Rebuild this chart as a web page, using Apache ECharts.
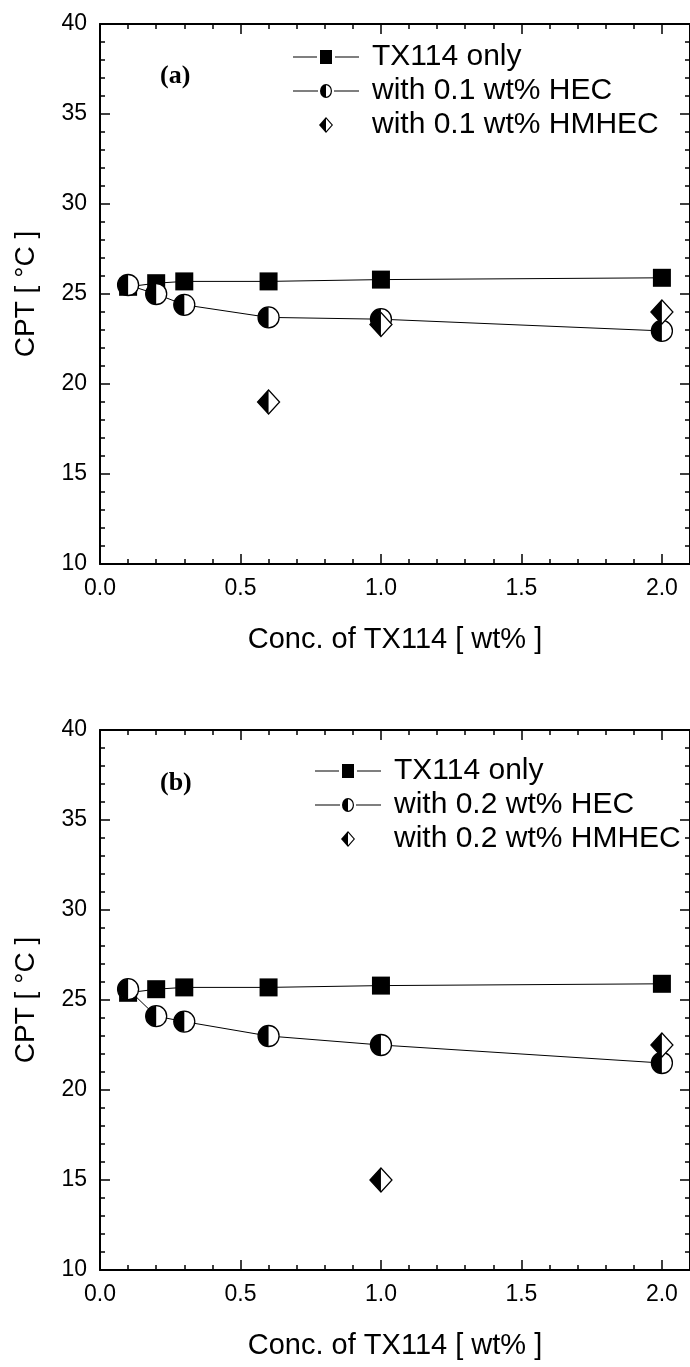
<!DOCTYPE html>
<html>
<head>
<meta charset="utf-8">
<script src="https://cdn.jsdelivr.net/npm/echarts@6/dist/echarts.min.js"></script>
<style>
html,body{margin:0;padding:0;background:#fff;}
#chart{width:690px;height:1367px;}
</style>
</head>
<body>
<div id="chart"></div>
<script>
// ---- data ----
const conc = [0.1, 0.2, 0.3, 0.6, 1.0, 2.0];
const tx114A = [25.4, 25.6, 25.7, 25.7, 25.8, 25.9];
const hecA = [25.5, 25.0, 24.4, 23.7, 23.6, 22.95];
const hmhecConcA = [0.6, 1.0, 2.0];
const hmhecA = [19.0, 23.3, 24.0];

const tx114B = [25.4, 25.6, 25.7, 25.7, 25.8, 25.9];
const hecB = [25.6, 24.1, 23.8, 23.0, 22.5, 21.5];
const hmhecConcB = [1.0, 2.0];
const hmhecB = [15.0, 22.5];

const xTicks = [0, 0.5, 1.0, 1.5, 2.0];
const yTicks = [10, 15, 20, 25, 30, 35, 40];

const namesA = ['TX114 only', 'with 0.1 wt% HEC', 'with 0.1 wt% HMHEC'];
const namesB = ['TX114 only', 'with 0.2 wt% HEC', 'with 0.2 wt% HMHEC'];
const panelLabels = ['(a)', '(b)'];
const xTitle = 'Conc. of TX114 [ wt% ]';
const yTitle = 'CPT [ \u00B0C ]';

// ---- helpers ----
const pairs = (xs, ys) => xs.map((x, i) => [x, ys[i]]);
const FONT = 'Liberation Sans, Arial, sans-serif';

const ICON_SQUARE = 'path://M0,7.5 H24 V8.5 H0 Z M27,1 H39 V15 H27 Z M42,7.5 H66 V8.5 H42 Z M73.9,8 h0.1 v0.01 h-0.1 Z M33,0 h0.01 v0.01 h-0.01 Z M33,15.99 h0.01 v0.01 h-0.01 Z';
const ICON_CIRCLE = 'path://M0,7.5 H25 V8.5 H0 Z M33,1 A6,7 0 0,0 33,15 Z M33,1 A6,7 0 0,1 33,15 L33,13.8 A4.8,5.8 0 0,0 33,2.2 Z M41,7.5 H66 V8.5 H41 Z M73.9,8 h0.1 v0.01 h-0.1 Z M33,0 h0.01 v0.01 h-0.01 Z M33,15.99 h0.01 v0.01 h-0.01 Z';
const ICON_DIAMOND = 'path://M0,8 h0.05 v0.01 h-0.05 Z M33,0 L26,8 L33,16 Z M33,0 L40,8 L33,16 L33,14.2 L38.6,8 L33,1.8 Z M73.9,8 h0.1 v0.01 h-0.1 Z';

const HALF_CIRCLE = 'path://M10,0 A10,10 0 0,0 10,20 Z';
const HALF_DIAMOND = 'path://M10,0 L0,10 L10,20 Z';

const grids = [
  {left: 100, right: 0, top: 24, height: 540},
  {left: 100, right: 0, top: 730, height: 540}
];

const xAxes = [];
const yAxes = [];
grids.forEach((g, gi) => {
  const base = {
    type: 'value', gridIndex: gi, min: 0, max: 2.1,
    splitLine: {show: false}
  };
  xAxes.push(Object.assign({}, base, {
    position: 'bottom', interval: 0.5,
    axisLine: {show: true, onZero: false, lineStyle: {color: '#000', width: 2}},
    axisTick: {show: true, inside: true, length: 10, lineStyle: {color: '#000', width: 1.5}},
    axisLabel: {show: true, margin: 13, showMaxLabel: false, color: '#000', fontSize: 23, fontFamily: FONT,
      formatter: v => (xTicks.indexOf(v) >= 0 ? v.toFixed(1) : '')},
    name: xTitle, nameLocation: 'middle', nameGap: 61,
    nameTextStyle: {fontSize: 29, fontFamily: FONT, color: '#000'}
  }));
  xAxes.push(Object.assign({}, base, {
    position: 'bottom', interval: 0.1,
    axisLine: {show: false, onZero: false},
    axisTick: {show: true, inside: true, length: 5, lineStyle: {color: '#000', width: 1.5}},
    axisLabel: {show: false}
  }));
  xAxes.push(Object.assign({}, base, {
    position: 'top', interval: 0.5,
    axisLine: {show: true, onZero: false, lineStyle: {color: '#000', width: 2}},
    axisTick: {show: true, inside: true, length: 10, lineStyle: {color: '#000', width: 1.5}},
    axisLabel: {show: false}
  }));
  xAxes.push(Object.assign({}, base, {
    position: 'top', interval: 0.1,
    axisLine: {show: false, onZero: false},
    axisTick: {show: true, inside: true, length: 5, lineStyle: {color: '#000', width: 1.5}},
    axisLabel: {show: false}
  }));

  const ybase = {
    type: 'value', gridIndex: gi, min: 10, max: 40, interval: 5,
    splitLine: {show: false},
    axisLine: {show: true, onZero: false, lineStyle: {color: '#000', width: 2}},
    axisTick: {show: true, inside: true, length: 10, lineStyle: {color: '#000', width: 1.5}},
    minorTick: {show: true, splitNumber: 5, length: 5, lineStyle: {color: '#000', width: 1.5}}
  };
  yAxes.push(Object.assign({}, ybase, {
    position: 'left',
    axisLabel: {show: true, margin: 13, color: '#000', fontSize: 23, fontFamily: FONT,
      formatter: v => (yTicks.indexOf(v) >= 0 ? String(v) : '')},
    name: yTitle, nameLocation: 'middle', nameGap: 60,
    nameTextStyle: {fontSize: 28, fontFamily: FONT, color: '#000'}
  }));
  yAxes.push(Object.assign({}, ybase, {
    position: 'right',
    axisLabel: {show: false}
  }));
});

function panelSeries(gi, names, tx, hec, hmX, hm) {
  const xi = gi * 4, yi = gi * 2;
  return [
    {
      name: names[0], type: 'line', xAxisIndex: xi, yAxisIndex: yi,
      data: pairs(conc, tx),
      symbol: 'rect', symbolSize: 18,
      itemStyle: {color: '#000', opacity: 1},
      lineStyle: {color: '#000', width: 1},
      z: 2
    },
    {
      name: names[1], type: 'line', xAxisIndex: xi, yAxisIndex: yi,
      data: pairs(conc, hec),
      symbol: 'circle', symbolSize: 21,
      itemStyle: {color: '#fff', borderColor: '#000', borderWidth: 1.3, opacity: 1},
      lineStyle: {color: '#000', width: 1},
      z: 3
    },
    {
      name: names[1] + ' (half)', type: 'scatter', xAxisIndex: xi, yAxisIndex: yi,
      data: pairs(conc, hec),
      symbol: HALF_CIRCLE, symbolSize: [10.5, 21], symbolOffset: [-5.25, 0],
      itemStyle: {color: '#000', opacity: 1},
      z: 4
    },
    {
      name: names[2], type: 'scatter', xAxisIndex: xi, yAxisIndex: yi,
      data: pairs(hmX, hm),
      symbol: 'diamond', symbolSize: [22, 24],
      itemStyle: {color: '#fff', borderColor: '#000', borderWidth: 1.3, opacity: 1},
      z: 5
    },
    {
      name: names[2] + ' (half)', type: 'scatter', xAxisIndex: xi, yAxisIndex: yi,
      data: pairs(hmX, hm),
      symbol: HALF_DIAMOND, symbolSize: [11, 24], symbolOffset: [-5.5, 0],
      itemStyle: {color: '#000', opacity: 1},
      z: 6
    }
  ];
}

function legendFor(names, left, top) {
  const icons = [ICON_SQUARE, ICON_CIRCLE, ICON_DIAMOND];
  return {
    orient: 'vertical', left: left, top: top, padding: 0, itemGap: 0,
    itemWidth: 74, itemHeight: 16, selectedMode: false,
    itemStyle: {color: '#000', borderWidth: 0, opacity: 1},
    textStyle: {fontSize: 30, fontFamily: FONT, color: '#000', lineHeight: 34},
    data: names.map((n, i) => ({name: n, icon: icons[i], itemStyle: {color: '#000', borderWidth: 0, opacity: 1}}))
  };
}

const option = {
  animation: false,
  backgroundColor: '#fff',
  grid: grids,
  xAxis: xAxes,
  yAxis: yAxes,
  legend: [legendFor(namesA, 293, 40), legendFor(namesB, 315, 754)],
  graphic: [
    {type: 'text', left: 160, top: 63, style: {text: panelLabels[0], font: 'bold 26px "Liberation Serif", "Times New Roman", serif', fill: '#000'}},
    {type: 'text', left: 160, top: 770, style: {text: panelLabels[1], font: 'bold 26px "Liberation Serif", "Times New Roman", serif', fill: '#000'}}
  ],
  series: [].concat(
    panelSeries(0, namesA, tx114A, hecA, hmhecConcA, hmhecA),
    panelSeries(1, namesB, tx114B, hecB, hmhecConcB, hmhecB)
  )
};

const chart = echarts.init(document.getElementById('chart'), null, {renderer: 'canvas'});
chart.setOption(option);
</script>
</body>
</html>
